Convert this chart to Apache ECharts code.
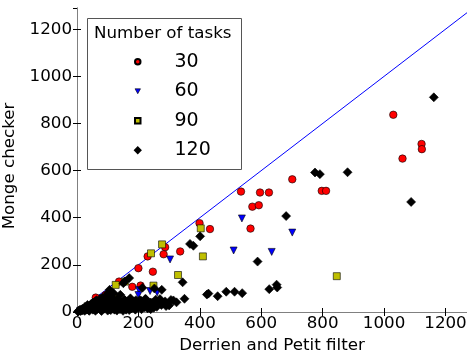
<!DOCTYPE html>
<html lang="en">
    <head>
        <meta charset="UTF-8">
        <title>Monge checker</title>
        <script src="https://cdn.jsdelivr.net/npm/echarts@6/dist/echarts.min.js"></script>
        <style type="text/css">
            body { margin: 0; background: #fff; }
        </style>
    </head>
    <body>
        <div id="main" style="width: 467px;height:351px;"></div>
    </body>

    <script type="text/javascript">
        // 30 tasks
        var tasks30 = [[1030,837],[1122,713],[1123,691],[1060,651],[701,563],[534,511],[596,507],[625,507],
            [797,514],[811,514],[571,447],[592,453],[565,354],[399,377],[433,352],[287,275],[282,245],
            [230,236],[336,257],[247,171],[200,186],[207,112],[180,107],[137,129],[93,72],[61,61],
            [40,28],[20,12],[70,35],[115,55],[30,18]];
        // 60 tasks
        var tasks60 = [[537,397],[701,337],[634,255],[510,261],[303,223],[202,93],[200,72],[238,89],
            [261,83],[82,58],[78,45],[30,15],[50,25],[120,40],[10,5]];
        // 90 tasks
        var tasks90 = [[846,152],[403,355],[410,236],[277,287],[241,249],[329,157],[249,112],[126,115],
            [156,129],[131,58],[77,37],[34,24],[60,30],[15,8]];
        // 120 tasks
        var tasks120 = [[1162,911],[775,592],[791,585],[881,593],[1088,467],[681,407],[588,214],[650,116],
            [652,104],[626,97],[538,80],[513,86],[486,86],[458,67],[423,74],[428,78],[401,321],[368,289],
            [379,281],[344,126],[350,56],[314,49],[324,41],[276,94],[252,100],[222,55],[204,50],[170,144],
            [156,130],[151,122],[213,103],[141,73],[106,94],[119,80],[154,52],[170,38],[186,45],[208,48],
            [224,55],[240,40],[262,41],[282,38],[287,45],[256,52],[270,55],[135,31],[157,38],[179,38],
            [5,3],[8,6],[12,4],[15,9],[18,7],[22,12],[25,5],[28,15],[32,10],[35,18],[38,8],[42,20],
            [45,14],[48,24],[52,10],[55,22],[58,16],[62,28],[65,12],[68,20],[72,32],[75,18],[78,8],
            [82,25],[85,36],[88,14],[92,28],[95,20],[98,40],[102,30],[105,12],[108,24],[112,35],[115,18],
            [118,28],[122,10],[125,22],[128,32],[132,16],[135,26],[140,20],[145,30],[150,14],[155,24],
            [160,18],[165,28],[172,22],[178,15],[185,26],[192,20],[198,30],[212,35],[230,28],[245,38],
            [3,2],[10,10],[18,14],[26,20],[34,30],[40,22],[46,34],[52,40],[58,30],[60,46],
            [64,50],[70,42],[76,55],[82,60],[88,48],[94,66],[100,80],[104,70],[108,58],[96,52],
            [114,62],[120,50],[132,55],[138,44],[156,50],[168,48],
            [174,58],[180,45],[192,50],[198,40],[210,46],[220,40],
            [110,8],[130,6],[150,5],[170,8],[190,10],[210,12],[230,15],[250,18],[60,5],[80,4],[100,6],
            [40,5],[120,15],[140,12],[160,10],[180,20],[200,22],[220,20],[240,25],[260,22],[275,30],
            [290,25],[300,28],[240,12],[306,51]];
        // y = x reference line
        var diagonal = [[0,0],[1300,1300]];

        var xTicks = 200, yTicks = 200;
        var font = 'DejaVu Sans';
        var plain = function (v) { return String(v); };

        var myChart = echarts.init(document.getElementById('main'));
        myChart.setOption({
            animation: false,
            title: {
                text: 'Number of tasks',
                left: 94,
                top: 24,
                padding: 0,
                textStyle: { fontFamily: font, fontSize: 16.7, fontWeight: 'normal', color: '#000', lineHeight: 20 }
            },
            legend: {
                orient: 'vertical',
                left: 134,
                top: 47,
                padding: 0,
                itemGap: 0,
                itemWidth: 5.5,
                itemHeight: 5.5,
                data: [
                    { name: '30' },
                    { name: '60', icon: 'path://M0,0L10,0L5,9Z', itemStyle: { color: '#0000ff', borderColor: '#000', borderWidth: 0.6 } },
                    { name: '90' },
                    { name: '120' }
                ],
                textStyle: { fontFamily: font, fontSize: 19, color: '#000', lineHeight: 29.5, padding: [0, 0, 0, 29] }
            },
            graphic: [{
                type: 'rect',
                shape: { x: 87.5, y: 18.5, width: 154, height: 151 },
                style: { fill: 'none', stroke: '#555', lineWidth: 1 },
                z: 0
            }],
            grid: { left: 77, right: 0, top: 8, bottom: 39, show: false, outerBoundsMode: 'none', containLabel: false },
            xAxis: [{
                type: 'value', min: 0, max: 1270, interval: xTicks,
                name: 'Derrien and Petit filter', nameLocation: 'middle', nameGap: 22,
                nameTextStyle: { fontFamily: font, fontSize: 16.7, color: '#000' },
                axisLine: { lineStyle: { color: '#808080', width: 1 } },
                axisTick: { inside: true, length: 4, lineStyle: { color: '#000' } },
                axisLabel: { fontFamily: font, fontSize: 16.7, color: '#000', margin: 3, showMaxLabel: false, formatter: plain },
                splitLine: { show: false }
            }, {
                type: 'value', min: 0, max: 1270, interval: xTicks, position: 'top',
                axisLine: { show: true, lineStyle: { color: '#808080', width: 1 } },
                axisTick: { inside: true, length: 4, lineStyle: { color: '#000' } },
                axisLabel: { show: false },
                splitLine: { show: false }
            }],
            yAxis: [{
                type: 'value', min: 0, max: 1290, interval: yTicks,
                name: 'Monge checker', nameLocation: 'middle', nameGap: 49,
                nameTextStyle: { fontFamily: font, fontSize: 16.7, color: '#000', padding: [0, 12, 0, 0] },
                axisLine: { show: true, lineStyle: { color: '#808080', width: 1 } },
                axisTick: { inside: true, length: 4, lineStyle: { color: '#000' } },
                axisLabel: { fontFamily: font, fontSize: 16.7, color: '#000', margin: 5, showMaxLabel: false, formatter: plain },
                splitLine: { show: false }
            }, {
                type: 'value', min: 0, max: 1290, interval: yTicks, position: 'right',
                axisLine: { show: true, lineStyle: { color: '#808080', width: 1 } },
                axisTick: { inside: true, length: 4, lineStyle: { color: '#000' } },
                axisLabel: { show: false },
                splitLine: { show: false }
            }],
            series: [{
                type: 'line',
                data: diagonal,
                symbol: 'none',
                lineStyle: { color: '#0000ff', width: 1 },
                z: 1
            }, {
                name: '30', type: 'scatter', data: tasks30,
                symbol: 'circle', symbolSize: 7.5,
                itemStyle: { color: '#ff0000', borderColor: '#000', borderWidth: 0.6, opacity: 1 },
                z: 2
            }, {
                name: '60', type: 'scatter', data: tasks60,
                symbol: 'triangle', symbolSize: 7, symbolRotate: 180,
                itemStyle: { color: '#0000ff', borderColor: '#000', borderWidth: 0.6, opacity: 1 },
                z: 3
            }, {
                name: '90', type: 'scatter', data: tasks90,
                symbol: 'rect', symbolSize: 7,
                itemStyle: { color: '#bfbf00', borderColor: '#000', borderWidth: 0.6, opacity: 1 },
                z: 4
            }, {
                name: '120', type: 'scatter', data: tasks120,
                symbol: 'diamond', symbolSize: 9,
                itemStyle: { color: '#000', borderColor: '#000', borderWidth: 0.6, opacity: 1 },
                z: 5
            }]
        });
    </script>
</html>
